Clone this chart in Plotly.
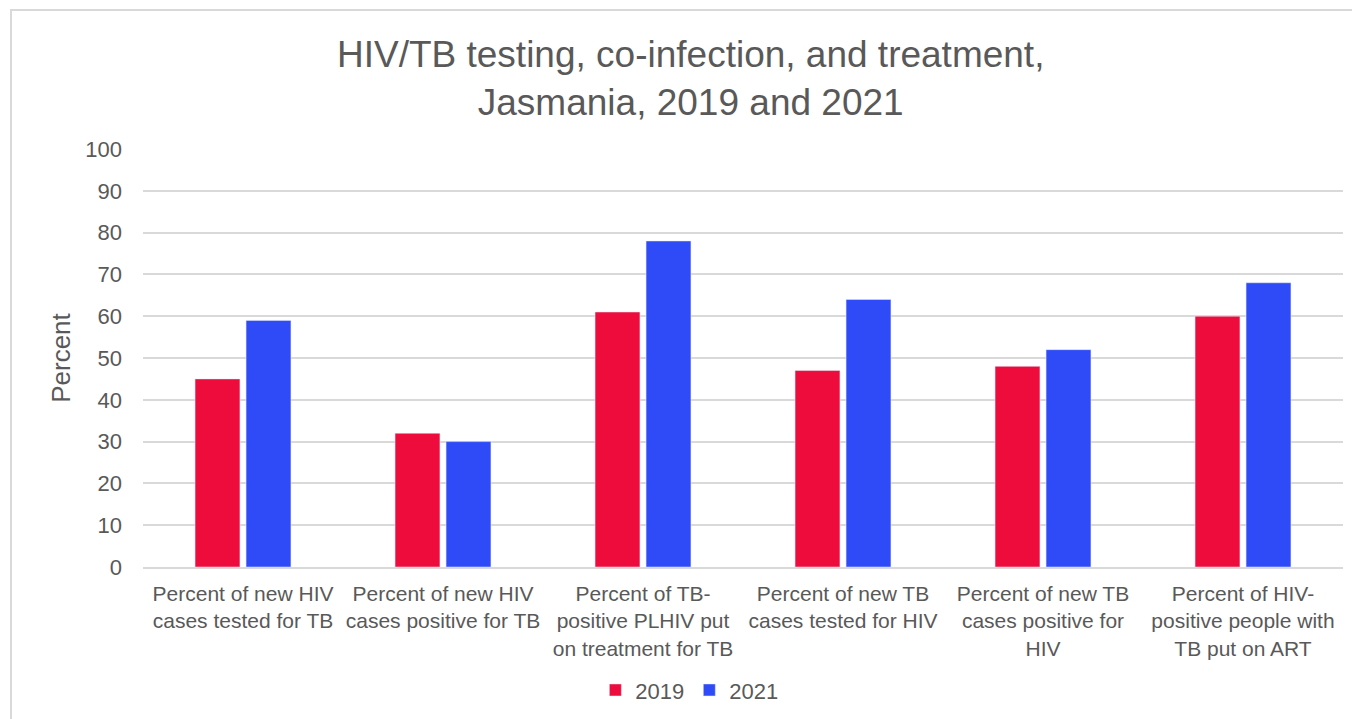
import plotly.graph_objects as go

categories = [
    "Percent of new HIV<br>cases tested for TB",
    "Percent of new HIV<br>cases positive for TB",
    "Percent of TB-<br>positive PLHIV put<br>on treatment for TB",
    "Percent of new TB<br>cases tested for HIV",
    "Percent of new TB<br>cases positive for<br>HIV",
    "Percent of HIV-<br>positive people with<br>TB put on ART",
]
values_2019 = [45, 32, 61, 47, 48, 60]
values_2021 = [59, 30, 78, 64, 52, 68]

RED = "#EE0C3D"
BLUE = "#2F4BF7"
TEXT = "#595959"
GRID = "#D9D9D9"
FONT = "Arial, Liberation Sans, sans-serif"

fig = go.Figure()

fig.add_trace(go.Bar(x=categories, y=values_2019, name="2019", marker_color=RED))
fig.add_trace(go.Bar(x=categories, y=values_2021, name="2021", marker_color=BLUE))

# the html page adds an 8px body margin, so margins are shifted by 8
fig.update_layout(
    width=1360,
    height=719,
    paper_bgcolor="white",
    plot_bgcolor="white",
    font=dict(family=FONT, color=TEXT, size=21),
    margin=dict(l=135, r=25, t=141, b=160, autoexpand=False),
    barmode="group",
    bargap=0.49,
    bargroupgap=0.12,
    title=dict(
        text="HIV/TB testing, co-infection, and treatment,<br>Jasmania, 2019 and 2021",
        font=dict(size=37, color=TEXT, family=FONT),
        x=0.502,
        xanchor="center",
        xref="container",
        y=0.918,
        yanchor="top",
        yref="container",
        automargin=False,
    ),
    legend=dict(
        orientation="h",
        x=0.501,
        xref="container",
        xanchor="center",
        y=0.022,
        yref="container",
        yanchor="bottom",
        font=dict(size=22, color=TEXT),
        itemwidth=30,
        tracegroupgap=0,
    ),
    showlegend=True,
)

fig.update_yaxes(
    range=[0, 100],
    dtick=10,
    showgrid=True,
    gridcolor=GRID,
    gridwidth=1.5,
    zeroline=False,
    ticks="",
    automargin=False,
    tickfont=dict(size=22, color=TEXT),
    ticklabelstandoff=20,
    title=dict(text="Percent", font=dict(size=26, color=TEXT), standoff=7),
)

fig.update_xaxes(
    showline=True,
    linecolor=GRID,
    linewidth=1.5,
    ticks="",
    automargin=False,
    tickfont=dict(size=21, color=TEXT),
    tickangle=0,
    ticklabelstandoff=7,
)

# outer chart border
fig.add_shape(
    type="rect",
    xref="paper", yref="paper",
    x0=-0.11, x1=1.05, y0=-0.6, y1=1.3325,
    line=dict(color=GRID, width=2),
    layer="below",
)

fig.write_html("out.html")
